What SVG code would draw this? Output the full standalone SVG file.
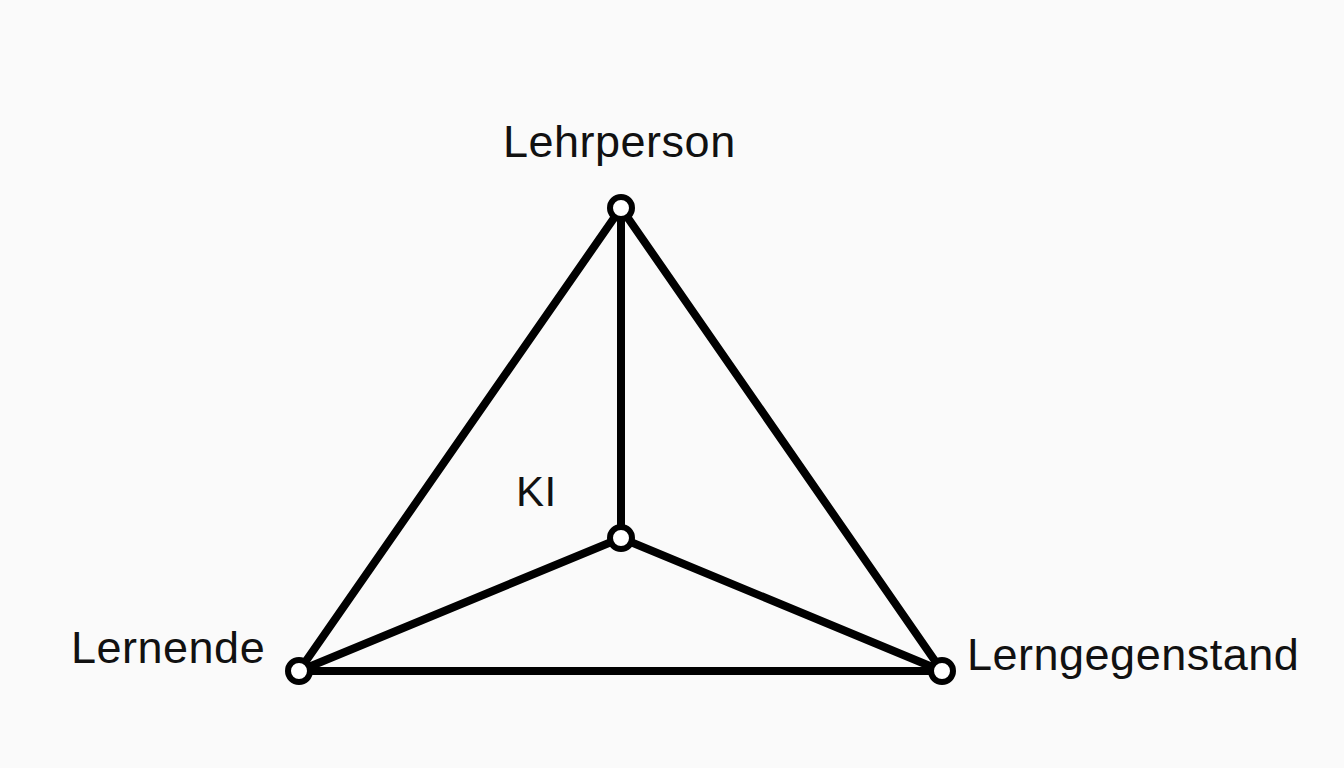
<svg xmlns="http://www.w3.org/2000/svg" width="1344" height="768" viewBox="0 0 1344 768">
<style>
.edge{stroke:#000;stroke-width:8;stroke-linecap:round;fill:none}
.node{fill:#fff;stroke:#000;stroke-width:6}
.lbl{font-family:"Liberation Sans",Arial,sans-serif;font-size:45px;fill:#111;letter-spacing:0.5px}
</style>
<rect width="1344" height="768" fill="#fafafa"/>
<g id="connectors">
<line class="edge" x1="621" y1="208" x2="299" y2="671"/>
<line class="edge" x1="621" y1="208" x2="942" y2="671"/>
<line class="edge" x1="621" y1="208" x2="621" y2="538"/>
<line class="edge" x1="299" y1="671" x2="942" y2="671"/>
<line class="edge" x1="621" y1="538" x2="299" y2="671"/>
<line class="edge" x1="621" y1="538" x2="942" y2="671"/>
</g>
<g id="lehrperson"><circle class="node" cx="621" cy="208" r="11"/><text class="lbl" x="503" y="157">Lehrperson</text></g>
<g id="ki"><circle class="node" cx="621" cy="538" r="11"/><text class="lbl" x="516" y="506" style="font-size:42px">KI</text></g>
<g id="lernende"><circle class="node" cx="299" cy="671" r="11"/><text class="lbl" x="71" y="663">Lernende</text></g>
<g id="lerngegenstand"><circle class="node" cx="942" cy="671" r="11"/><text class="lbl" x="967" y="670">Lerngegenstand</text></g>
</svg>
